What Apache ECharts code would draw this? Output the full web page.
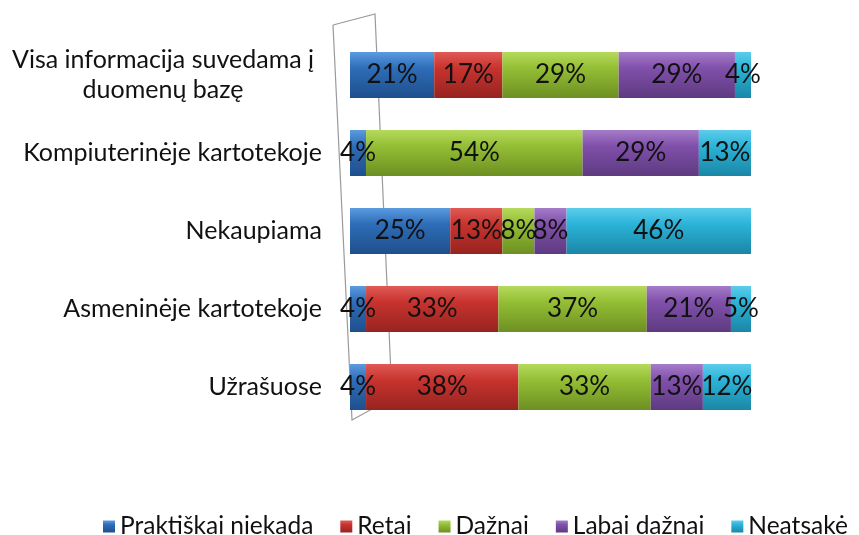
<!DOCTYPE html>
<html><head><meta charset="utf-8">
<script src="https://cdn.jsdelivr.net/npm/echarts@6/dist/echarts.min.js"></script>
<style>html,body{margin:0;padding:0;background:#fff}#c{width:859px;height:535px}</style>
</head><body><div id="c"></div>
<script>
const categories = ['Visa informacija suvedama į\nduomenų bazę','Kompiuterinėje kartotekoje','Nekaupiama','Asmeninėje kartotekoje','Užrašuose'];
const seriesNames = ['Praktiškai niekada','Retai','Dažnai','Labai dažnai','Neatsakė'];
const praktiskai = [21,4,25,4,4];
const retai = [17,0,13,33,38];
const daznai = [29,54,8,37,33];
const labaiDaznai = [29,29,8,21,13];
const neatsake = [4,13,46,5,12];
const values = [praktiskai, retai, daznai, labaiDaznai, neatsake];
const colors = [['#5B9BE0','#2E6DB8','#1F4F8C'],['#E05A55','#C8332E','#962420'],['#B5DA5C','#94BE35','#6D8F22'],['#A47CC8','#8050AA','#5E3A80'],['#5CCDEB','#2BB3D8','#1A86A6']];
const FONT = 'Lato';
const chart = echarts.init(document.getElementById('c'));
chart.setOption({
  animation:false,
  textStyle:{fontFamily:FONT},
  grid:{left:350,right:108,top:36,bottom:109},
  xAxis:{type:'value',min:0,max:100,show:false},
  yAxis:{type:'category',data:categories,inverse:true,
    axisLine:{show:false},axisTick:{show:false},
    axisLabel:{margin:28,fontSize:25,color:'#111',fontFamily:FONT,
      formatter:function(v){
        if(v.indexOf('\n')>=0){const p=v.split('\n');return '{c|'+p[0]+'}\n{c|'+p[1]+'}';}
        return v;
      },
      rich:{c:{align:'center',width:318,fontSize:25,color:'#111',fontFamily:FONT,lineHeight:30}}
    }},
  legend:{top:509,left:98,itemWidth:12,itemHeight:12,itemGap:27,icon:'rect',
    textStyle:{fontSize:24.5,color:'#111',fontFamily:FONT},data:seriesNames},
  graphic:[{type:'polyline',shape:{points:[[333,25],[375,14],[392,398],[352,420],[333,25]]},style:{stroke:'#9a9a9a',fill:'none',lineWidth:1.2},z:-1}],
  series: seriesNames.map((n,i)=>({
    name:n,type:'bar',stack:'s',barWidth:46,data:values[i],
    itemStyle:{color:new echarts.graphic.LinearGradient(0,0,0,1,[{offset:0,color:colors[i][0]},{offset:0.35,color:colors[i][1]},{offset:1,color:colors[i][2]}])},
    label:{show:true,position:'inside',fontSize:26,color:'#111',fontFamily:FONT,
      formatter:p=>p.value>0?p.value+'%':''}
  }))
});
</script></body></html>
